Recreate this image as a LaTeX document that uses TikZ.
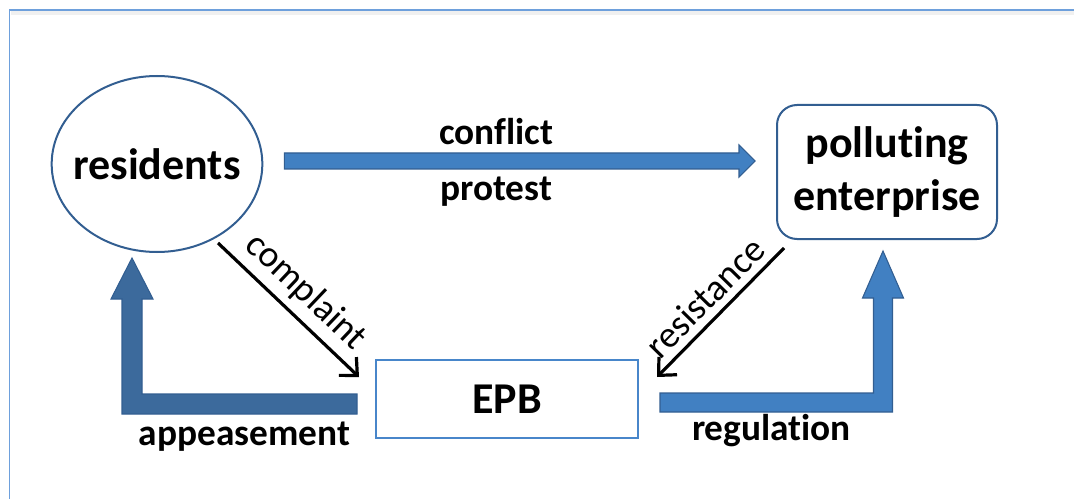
\documentclass[tikz,border=0pt]{standalone}
\usepackage{fontspec}
\setmainfont{Carlito}[Ligatures={NoCommon}]
\usetikzlibrary{arrows.meta,calc,shapes.geometric}
\definecolor{framesky}{RGB}{110,160,220}
\definecolor{navyline}{RGB}{50,94,145}
\definecolor{steel}{RGB}{65,128,194}
\definecolor{steeldark}{RGB}{60,106,156}
\definecolor{epbline}{RGB}{72,134,202}

\begin{document}
\begin{tikzpicture}[x=0.75pt,y=-0.75pt,
    actor/.style={draw=navyline, line width=1.5pt, align=center, inner sep=0pt,
                  font=\bfseries\fontsize{33}{40}\selectfont},
    lbl/.style={anchor=base, font=\bfseries\fontsize{28}{34}\selectfont},
    slant/.style={font=\fontsize{28}{34}\selectfont},
    thinarrow/.style={line width=2.4pt, -{Straight Barb[length=10pt,width=19pt,line width=2.4pt]}},
    blockarrow/.style={line width=0.8pt, line join=miter}]
    % Frame
    \useasboundingbox (0,0) rectangle (1074,499);
    \draw[gray!12, line width=3pt]              (11,13.5) -- (1074,13.5);
    \draw[framesky, line width=0.9pt]           (1074,10) -- (9.5,10) -- (9.5,499);
    % Actors
    \node[actor, ellipse, minimum width=158pt, minimum height=132pt] (res) at (157,164) {\makebox[0pt]{residents}};
    \node[actor, rounded corners=15pt, minimum width=165pt, minimum height=100.5pt,
          font=\bfseries\fontsize{33}{40}\selectfont]                (ent) at (887,172) {polluting\\enterprise};
    \node[actor, draw=epbline, minimum width=196.5pt, minimum height=58.5pt] (epb) at (507,399) {EPB};
    % Conflict / protest
    \coordinate (ct1) at ($(res.east)+(21,-3)$);
    \coordinate (ct2) at ($(ct1 -| ent.west)+(-21,0)$);
    \filldraw[blockarrow, draw=navyline, fill=steel]
        ($(ct1)+(0,-8)$) -- ($(ct2)+(-16,-8)$) -- ($(ct2)+(-16,-16)$) -- (ct2)
        -- ($(ct2)+(-16,16)$) -- ($(ct2)+(-16,8)$) -- ($(ct1)+(0,8)$) -- cycle;
    \node[lbl] (conflict) at ($(ct1)!0.45!(ct2)+(0,-16)$) {conflict};
    \node[lbl] (protest)  at ($(ct1)!0.45!(ct2)+(0,39)$)  {protest};
    % Complaint / resistance
    \draw[thinarrow] ($(res.center)+(61,79)$) -- ($(epb.north west)+(-16,18)$)
         node[slant, midway, sloped, above=2pt] {complaint};
    \draw[thinarrow] ($(ent.south west)+(8,8)$) -- ($(epb.north east)+(18,18)$)
         node[slant, midway, sloped, above=2pt] {resistance};
    % Appeasement
    \coordinate (ap1) at ($(epb.west)+(-18,5)$);
    \coordinate (ap2) at ($(res.south)+(-25,5)$);
    \coordinate (apc) at (ap1 -| ap2);
    \filldraw[blockarrow, draw=navyline, fill=steeldark]
        ($(ap1)+(0,-10)$) -- ($(apc)+(10,-10)$) -- ($(ap2)+(10,41)$) -- ($(ap2)+(21,41)$) -- (ap2)
        -- ($(ap2)+(-21,41)$) -- ($(ap2)+(-10,41)$) -- ($(apc)+(-10,10)$) -- ($(ap1)+(0,10)$) -- cycle;
    \node[lbl] (appeasement) at ($(apc)!0.5!(ap1)+(0,41)$) {appeasement};
    % Regulation
    \coordinate (rg1) at ($(epb.east)+(21,3.5)$);
    \coordinate (rg2) at ($(ent.south)+(-4,11)$);
    \coordinate (rgc) at (rg1 -| rg2);
    \filldraw[blockarrow, draw=navyline, fill=steel]
        ($(rg1)+(0,-9.5)$) -- ($(rgc)+(-9.5,-9.5)$) -- ($(rg2)+(-9.5,47)$) -- ($(rg2)+(-20.5,47)$) -- (rg2)
        -- ($(rg2)+(20.5,47)$) -- ($(rg2)+(9.5,47)$) -- ($(rgc)+(9.5,9.5)$) -- ($(rg1)+(0,9.5)$) -- cycle;
    \node[lbl] (regulation) at ($(rg1)!0.5!(rgc)+(0,37.5)$) {regulation};
\end{tikzpicture}
\end{document}
